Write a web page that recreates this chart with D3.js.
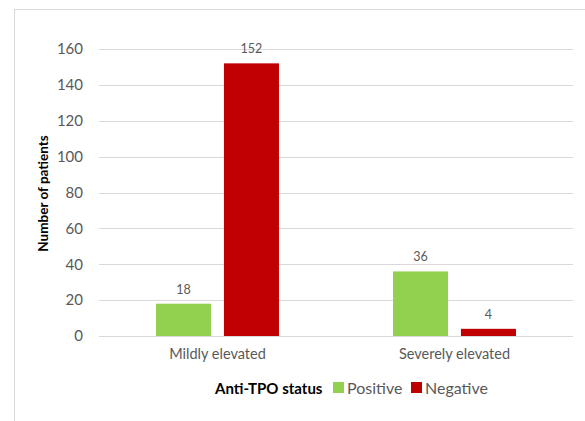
<!DOCTYPE html>
<html>
<head>
<meta charset="utf-8">
<script src="https://cdn.jsdelivr.net/npm/d3@7"></script>
<style>
  html, body { margin: 0; padding: 0; background: #fff; }
  svg { display: block; font-family: Lato, "Open Sans", sans-serif; }
</style>
</head>
<body>
<svg id="chart" width="585" height="421"></svg>
<script>
// Patient counts by TPO elevation level and anti-TPO antibody status
const categories = ["Mildly elevated", "Severely elevated"];
const seriesNames = ["Positive", "Negative"];
const positiveValues = [18, 36];
const negativeValues = [152, 4];
const yTicks = [0, 20, 40, 60, 80, 100, 120, 140, 160];
const colors = ["#92D050", "#C00000"];

const FONT = "Lato, 'Open Sans', sans-serif";
const svg = d3.select("#chart");

// outer chart frame
svg.append("rect")
  .attr("x", 14.5).attr("y", 9.5)
  .attr("width", 600).attr("height", 500)
  .attr("fill", "none").attr("stroke", "#d9d9d9");

const plot = { left: 99, right: 573, top: 49, bottom: 336 };

const x0 = d3.scaleBand().domain(categories).range([plot.left, plot.right]);
const x1 = d3.scaleBand().domain(seriesNames)
  .range([0, x0.bandwidth()]).paddingInner(0.19).paddingOuter(0.84);
const y = d3.scaleLinear().domain([0, 160]).range([plot.bottom, plot.top]);

// gridlines
svg.append("g").selectAll("line").data(yTicks).join("line")
  .attr("x1", plot.left).attr("x2", plot.right)
  .attr("y1", d => Math.round(y(d)) + 0.5).attr("y2", d => Math.round(y(d)) + 0.5)
  .attr("stroke", "#d9d9d9").attr("stroke-width", 1);

// y axis labels
const yAxis = d3.axisLeft(y).tickValues(yTicks).tickSize(0).tickPadding(16);
const yg = svg.append("g").attr("transform", `translate(${plot.left},0)`).call(yAxis);
yg.select(".domain").remove();
yg.selectAll("text").attr("fill", "#595959").style("font-size", "15px")
  .style("font-family", FONT);

// x axis labels
const xAxis = d3.axisBottom(x0).tickSize(0).tickPadding(13);
const xg = svg.append("g").attr("transform", `translate(0,${plot.bottom})`).call(xAxis);
xg.select(".domain").remove();
xg.selectAll("text").attr("fill", "#595959").style("font-size", "14.5px")
  .style("font-family", FONT);

// bars
const rows = categories.map((c, i) => ({
  category: c,
  values: [
    { series: seriesNames[0], value: positiveValues[i] },
    { series: seriesNames[1], value: negativeValues[i] }
  ]
}));

const groups = svg.append("g").selectAll("g").data(rows).join("g")
  .attr("transform", d => `translate(${x0(d.category)},0)`);

groups.selectAll("rect").data(d => d.values).join("rect")
  .attr("x", d => x1(d.series))
  .attr("width", x1.bandwidth())
  .attr("y", d => y(d.value))
  .attr("height", d => y(0) - y(d.value))
  .attr("fill", (d, i) => colors[i]);

groups.selectAll("text").data(d => d.values).join("text")
  .attr("x", d => x1(d.series) + x1.bandwidth() / 2)
  .attr("y", d => y(d.value) - 10)
  .attr("text-anchor", "middle")
  .attr("fill", "#595959")
  .style("font-size", "12.5px")
  .text(d => d.value);

// y axis title
svg.append("text")
  .attr("transform", `translate(48,${(plot.top + plot.bottom) / 2 + 1}) rotate(-90)`)
  .attr("text-anchor", "middle")
  .attr("fill", "#000")
  .style("font-size", "13.5px").style("font-weight", "bold")
  .text("Number of patients");

// legend
const legend = svg.append("g").attr("transform", "translate(0,388)");
legend.append("text")
  .attr("x", 215).attr("y", 5.5)
  .attr("fill", "#000").style("font-size", "15px").style("font-weight", "bold")
  .text("Anti-TPO status");
const legendX = [333, 411];
seriesNames.forEach((s, i) => {
  legend.append("rect")
    .attr("x", legendX[i]).attr("y", -6).attr("width", 11).attr("height", 11)
    .attr("fill", colors[i]);
  legend.append("text")
    .attr("x", legendX[i] + 14).attr("y", 5.5)
    .attr("fill", "#595959").style("font-size", "16px")
    .text(s);
});
</script>
</body>
</html>
